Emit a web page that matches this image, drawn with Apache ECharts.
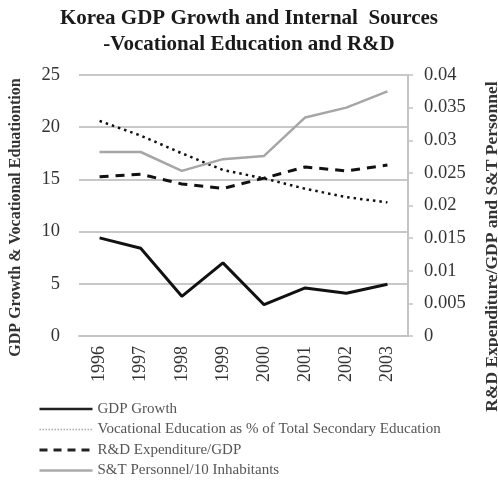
<!DOCTYPE html>
<html>
<head>
<meta charset="utf-8">
<script src="https://cdn.jsdelivr.net/npm/echarts@6/dist/echarts.min.js"></script>
<style>html,body{margin:0;padding:0;background:#fff;}#c{width:498px;height:485px;}</style>
</head>
<body>
<div id="c"></div>
<script>
var years = ['1996','1997','1998','1999','2000','2001','2002','2003'];
var gdpGrowth = [9.4, 8.4, 3.8, 7.0, 3.0, 4.6, 4.1, 4.95];
var vocationalEdu = [20.6, 19.2, 17.5, 15.9, 15.1, 14.1, 13.3, 12.8];
var rdExpenditure = [0.0244, 0.0248, 0.0233, 0.0226, 0.0242, 0.0259, 0.0253, 0.0262];
var stPersonnel = [0.0282, 0.0282, 0.0253, 0.0271, 0.0276, 0.0335, 0.0350, 0.0375];
var leftTicks = {min: 0, max: 25, interval: 5};
var rightTicks = {min: 0, max: 0.04, interval: 0.005};

var serif = '"Liberation Serif", "DejaVu Serif", serif';
var chart = echarts.init(document.getElementById('c'));
chart.setOption({
  animation: false,
  backgroundColor: '#fff',
  title: {
    text: 'Korea GDP Growth and Internal  Sources\n-Vocational Education and R&D',
    left: 'center',
    top: 1,
    textStyle: {fontFamily: serif, fontWeight: 'bold', fontSize: 21, color: '#1a1a1a', lineHeight: 26}
  },
  grid: {left: 79, right: 90, top: 75, bottom: 149, outerBoundsMode: 'none', containLabel: false},
  legend: {
    orient: 'vertical',
    left: 33,
    top: 396,
    height: 140,
    itemWidth: 53,
    itemHeight: 14,
    itemGap: 4.5,
    itemStyle: {color: 'rgba(0,0,0,0)', borderColor: 'rgba(0,0,0,0)', borderWidth: 0, opacity: 0},
    textStyle: {fontFamily: serif, fontSize: 15, lineHeight: 16, color: '#555'},
    data: [
      {name: 'GDP Growth', lineStyle: {color: '#222', width: 2.5}},
      {name: 'Vocational Education as % of Total Secondary Education', lineStyle: {color: '#aaa', width: 1.5, type: [1.5, 1.5]}},
      {name: 'R&D Expenditure/GDP', lineStyle: {color: '#222', width: 3, type: [8, 6]}},
      {name: 'S&T Personnel/10 Inhabitants', lineStyle: {color: '#aaa', width: 2.5}}
    ]
  },
  xAxis: {
    type: 'category',
    data: years,
    axisLine: {lineStyle: {color: '#c4c4c4', width: 2}},
    axisTick: {show: false},
    axisLabel: {rotate: 90, fontFamily: serif, fontSize: 18, color: '#333', margin: 10}
  },
  yAxis: [{
    type: 'value',
    min: leftTicks.min, max: leftTicks.max, interval: leftTicks.interval,
    name: 'GDP Growth & Vocational Eduationtion',
    nameLocation: 'middle',
    nameRotate: 90,
    nameGap: 55,
    nameTextStyle: {fontFamily: serif, fontWeight: 'bold', fontSize: 16, color: '#333', padding: [0, 24, 0, 0]},
    axisLine: {show: false},
    axisTick: {show: false},
    axisLabel: {fontFamily: serif, fontSize: 18.5, color: '#333', margin: 19},
    splitLine: {lineStyle: {color: '#c8c8c8', width: 2}}
  }, {
    type: 'value',
    position: 'right',
    min: rightTicks.min, max: rightTicks.max, interval: rightTicks.interval,
    name: 'R&D Expenditure/GDP and S&T Personnel',
    nameLocation: 'middle',
    nameRotate: 90,
    nameGap: 75,
    nameTextStyle: {fontFamily: serif, fontWeight: 'bold', fontSize: 17.5, color: '#333', padding: [0, 82, 0, 0]},
    axisLine: {show: true, lineStyle: {color: '#c4c4c4', width: 2}},
    axisTick: {show: true, length: 5, lineStyle: {color: '#c4c4c4', width: 1.5}},
    axisLabel: {fontFamily: serif, fontSize: 18.5, color: '#333', margin: 16},
    splitLine: {show: false}
  }],
  series: [{
    name: 'GDP Growth',
    type: 'line',
    yAxisIndex: 0,
    data: gdpGrowth,
    symbol: 'none',
    itemStyle: {color: '#111'},
    lineStyle: {color: '#111', width: 3}
  }, {
    name: 'Vocational Education as % of Total Secondary Education',
    type: 'line',
    yAxisIndex: 0,
    data: vocationalEdu,
    symbol: 'none',
    itemStyle: {color: '#111'},
    lineStyle: {color: '#111', width: 2.5, type: [2.5, 4]}
  }, {
    name: 'R&D Expenditure/GDP',
    type: 'line',
    yAxisIndex: 1,
    data: rdExpenditure,
    symbol: 'none',
    itemStyle: {color: '#111'},
    lineStyle: {color: '#111', width: 3, type: [9, 7]}
  }, {
    name: 'S&T Personnel/10 Inhabitants',
    type: 'line',
    yAxisIndex: 1,
    data: stPersonnel,
    symbol: 'none',
    itemStyle: {color: '#a6a6a6'},
    lineStyle: {color: '#a6a6a6', width: 2.5}
  }]
});
</script>
</body>
</html>
